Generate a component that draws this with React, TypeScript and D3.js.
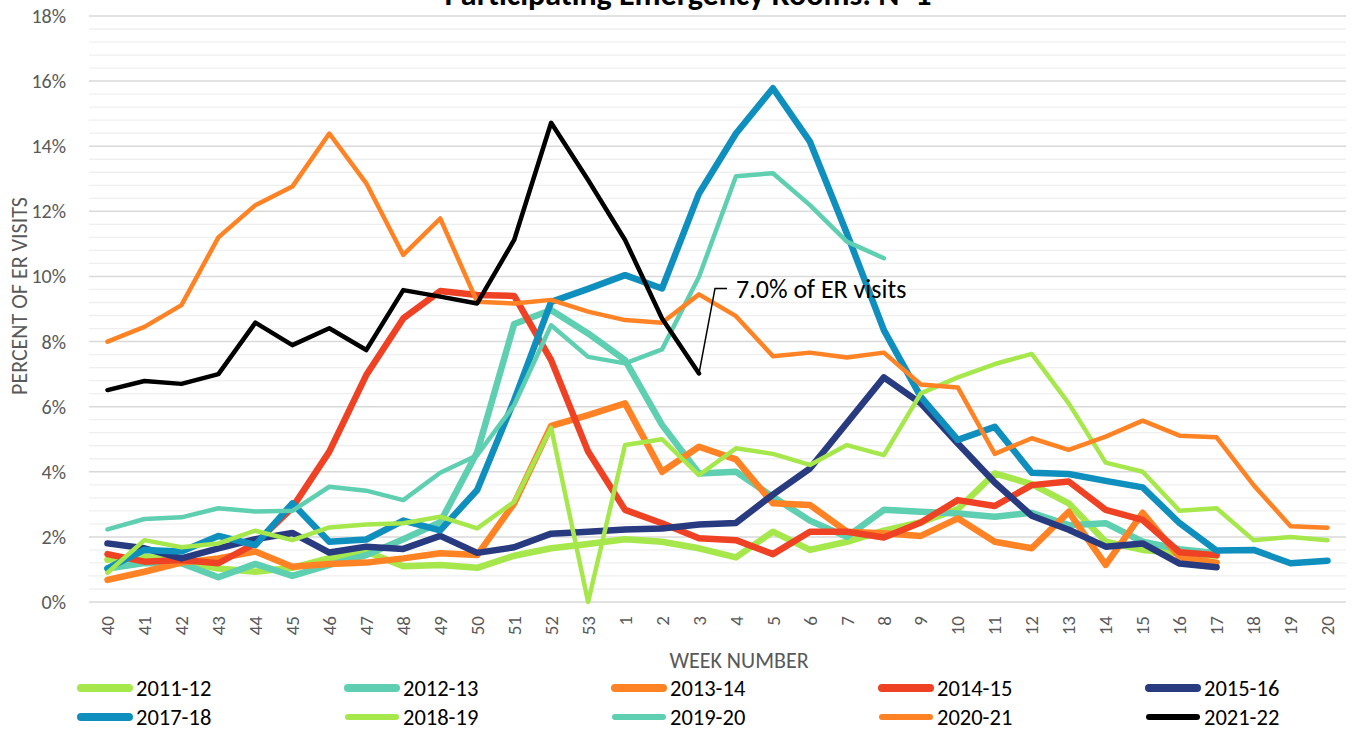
import React from 'react';
import * as d3 from 'd3';

// week labels on the x axis (season runs from week 40 to week 20)
const weeks = ['40', '41', '42', '43', '44', '45', '46', '47', '48', '49', '50', '51', '52', '53',
  '1', '2', '3', '4', '5', '6', '7', '8', '9', '10', '11', '12', '13', '14', '15', '16', '17', '18', '19', '20'];

const yTicks = [0, 2, 4, 6, 8, 10, 12, 14, 16, 18];

// percent of ER visits, one array per season
const s2011 = [1.3, 1.4, 1.25, 1.03, 0.93, 1.05, 1.35, 1.55, 1.1, 1.14, 1.05, 1.42, 1.65, 1.78,
  1.93, 1.85, 1.65, 1.37, 2.16, 1.6, 1.85, 2.19, 2.45, 2.85, 3.95, 3.62, 3.03, 1.85, 1.6, 1.5, 1.42];
const s2012 = [1.03, 1.2, 1.19, 0.76, 1.17, 0.8, 1.14, 1.44, 1.93, 2.45, 4.6, 8.54, 8.97, 8.25,
  7.43, 5.44, 3.95, 4.0, 3.23, 2.5, 2.0, 2.83, 2.77, 2.72, 2.62, 2.74, 2.36, 2.42, 1.85, 1.62, 1.5];
const s2013 = [0.68, 0.93, 1.21, 1.34, 1.55, 1.08, 1.17, 1.21, 1.34, 1.5, 1.44, 3.03, 5.41, 5.74,
  6.1, 4.0, 4.77, 4.38, 3.03, 2.98, 2.16, 2.11, 2.03, 2.57, 1.85, 1.65, 2.77, 1.14, 2.74, 1.37, 1.21];
const s2014 = [1.47, 1.24, 1.29, 1.19, 1.8, 2.9, 4.62, 6.97, 8.71, 9.55, 9.43, 9.4, 7.43, 4.62,
  2.83, 2.42, 1.96, 1.9, 1.47, 2.16, 2.16, 1.98, 2.44, 3.13, 2.95, 3.59, 3.7, 2.83, 2.52, 1.53, 1.44];
const s2015 = [1.8, 1.65, 1.34, 1.65, 1.93, 2.12, 1.52, 1.7, 1.63, 2.03, 1.51, 1.68, 2.1, 2.16,
  2.23, 2.26, 2.38, 2.43, 3.3, 4.1, 5.5, 6.9, 6.1, 4.87, 3.67, 2.65, 2.22, 1.7, 1.8, 1.18, 1.07];
const s2017 = [1.03, 1.6, 1.55, 2.03, 1.75, 3.03, 1.85, 1.92, 2.5, 2.2, 3.44, 6.2, 9.22, 9.62,
  10.04, 9.63, 12.55, 14.39, 15.78, 14.14, 11.32, 8.35, 6.3, 4.98, 5.38, 3.97, 3.93, 3.72, 3.52, 2.42, 1.58, 1.6, 1.19, 1.27];
const s2018 = [0.9, 1.9, 1.68, 1.8, 2.19, 1.9, 2.29, 2.38, 2.42, 2.62, 2.26, 3.08, 5.35, 0,
  4.82, 5.0, 3.9, 4.72, 4.55, 4.21, 4.82, 4.51, 6.41, 6.9, 7.31, 7.62, 6.1, 4.28, 4.0, 2.8, 2.88, 1.9, 2.0, 1.9];
const s2019 = [2.23, 2.55, 2.6, 2.88, 2.78, 2.8, 3.54, 3.42, 3.13, 3.97, 4.51, 6.05, 8.5, 7.53,
  7.33, 7.76, 9.99, 13.08, 13.17, 12.19, 11.07, 10.56];
const s2020 = [8.0, 8.45, 9.12, 11.2, 12.19, 12.76, 14.39, 12.86, 10.66, 11.78, 9.22, 9.17, 9.28, 8.92,
  8.66, 8.58, 9.45, 8.78, 7.55, 7.66, 7.51, 7.66, 6.68, 6.59, 4.55, 5.03, 4.67, 5.08, 5.57, 5.11, 5.06, 3.59, 2.33, 2.28];
const s2021 = [6.51, 6.79, 6.7, 7.0, 8.58, 7.89, 8.41, 7.74, 9.58, 9.38, 9.17, 11.12, 14.72, 12.96,
  11.12, 8.71, 7.02];

const seasons = ['2011-12', '2012-13', '2013-14', '2014-15', '2015-16', '2017-18', '2018-19', '2019-20', '2020-21', '2021-22'];
const seasonValues = [s2011, s2012, s2013, s2014, s2015, s2017, s2018, s2019, s2020, s2021];
const colors = ['#A6E84C', '#5ECFB0', '#FF8224', '#EF4225', '#283A80', '#0F8FBD', '#A6E84C', '#5ECFB0', '#FF8224', '#000000'];
const widths = [6.5, 6.5, 6.5, 6.5, 6.5, 6.5, 4.5, 4.5, 4.5, 4.5];

const W = 1356;
const H = 732;
const FONT = "Carlito, Lato, 'Open Sans', sans-serif";

export default function App() {
  const x = d3.scaleBand<number>()
    .domain(d3.range(weeks.length))
    .range([89, 1346]);
  const xc = (i: number) => (x(i) as number) + x.bandwidth() / 2;
  const y = d3.scaleLinear().domain([0, 18]).range([602, 16]);

  const line = d3.line<number>()
    .x((_, i) => xc(i))
    .y(d => y(d))
    .curve(d3.curveLinear);

  const minor = d3.range(0, 18.01, 0.4).filter(v => Math.abs(v / 2 - Math.round(v / 2)) > 0.01);

  // annotation on last point of 2021-22
  const lastIdx = s2021.length - 1;
  const ax = xc(lastIdx);
  const ay = y(s2021[lastIdx]);

  return (
    <svg width={W} height={H} style={{ position: 'absolute', left: 0, top: 0, background: '#fff' }}
      fontFamily={FONT}>
      {/* title, clipped at the top edge */}
      <text x={688} y={5} textAnchor="middle" fontSize={32} fontWeight="bold" fill="#000">
        Participating Emergency Rooms: N=1
      </text>

      {/* gridlines */}
      {minor.map(v => (
        <line key={'m' + v} x1={89} x2={1346} y1={y(v)} y2={y(v)} stroke="#EFEFEF" strokeWidth={1.3} />
      ))}
      {yTicks.map(v => (
        <line key={'g' + v} x1={89} x2={1346} y1={y(v)} y2={y(v)} stroke="#D9D9D9" strokeWidth={1.5} />
      ))}

      {/* y tick labels */}
      {yTicks.map(v => (
        <text key={'yt' + v} x={66} y={y(v)} dy="0.35em" textAnchor="end" fontSize={20} fill="#595959">
          {v}%
        </text>
      ))}

      {/* x tick labels */}
      {weeks.map((w, i) => (
        <text key={'xt' + i} transform={`translate(${xc(i)},${616}) rotate(-90)`} dy="0.35em"
          textAnchor="end" fontSize={19} fill="#595959">
          {w}
        </text>
      ))}

      <text transform="translate(19,296) rotate(-90)" dy="0.35em" textAnchor="middle" fontSize={22} fill="#595959">
        PERCENT OF ER VISITS
      </text>
      <text x={739} y={660} dy="0.35em" textAnchor="middle" fontSize={22} fill="#595959">
        WEEK NUMBER
      </text>

      {/* series */}
      {seasonValues.map((vals, k) => (
        <path key={seasons[k]} d={line(vals) || ''} fill="none" stroke={colors[k]}
          strokeWidth={widths[k]} strokeLinejoin="round" strokeLinecap="round" />
      ))}

      {/* callout */}
      <polyline points={`${ax},${ay} ${ax + 16},${ay - 85} ${ax + 28},${ay - 85}`}
        fill="none" stroke="#000" strokeWidth={1.5} />
      <text x={ax + 37} y={ay - 85} dy="0.35em" fontSize={26} fill="#000">7.0% of ER visits</text>

      {/* legend */}
      {seasons.map((s, k) => {
        const col = k % 5;
        const row = Math.floor(k / 5);
        const lx = 78 + col * 267;
        const ly = 688 + row * 29;
        return (
          <g key={'lg' + s}>
            <line x1={lx + 3} x2={lx + 51} y1={ly} y2={ly} stroke={colors[k]}
              strokeWidth={widths[k] + 1.5} strokeLinecap="round" />
            <text x={lx + 58} y={ly} dy="0.35em" fontSize={22.5} fill="#000">{s}</text>
          </g>
        );
      })}
    </svg>
  );
}
